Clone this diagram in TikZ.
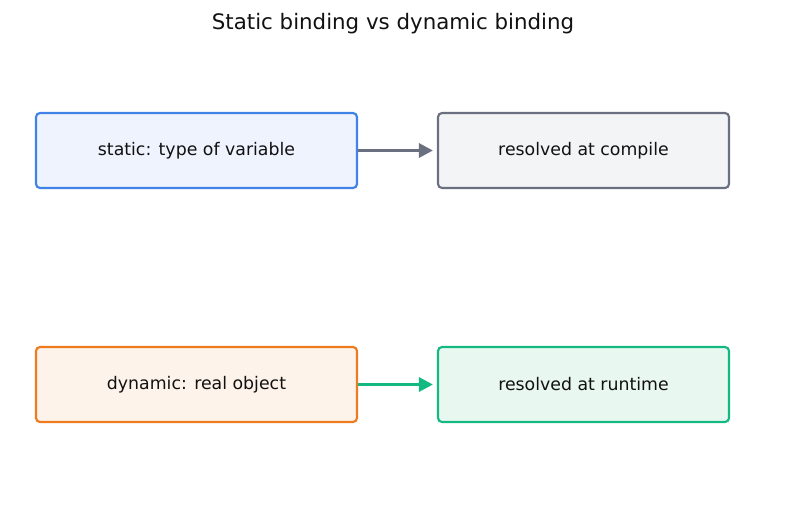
\documentclass[tikz,border=0pt]{standalone}
\usepackage{fontspec}
\setmainfont{DejaVu Sans}
\usetikzlibrary{arrows.meta}
\definecolor{bblue}{HTML}{3F83E6}
\definecolor{fblue}{HTML}{EEF3FE}
\definecolor{bgray}{HTML}{6B7080}
\definecolor{fgray}{HTML}{F3F4F6}
\definecolor{borange}{HTML}{EE7B1E}
\definecolor{forange}{HTML}{FEF3EA}
\definecolor{bgreen}{HTML}{14B981}
\definecolor{fgreen}{HTML}{E8F8F0}
\definecolor{txt}{HTML}{111111}
\begin{document}
\begin{tikzpicture}[x=0.75pt,y=-0.75pt,
  box/.style={draw, line width=1.6pt, rounded corners=3pt, minimum height=56.25pt, inner sep=0pt, font=\fontsize{13pt}{15pt}\selectfont, text=txt},
  conn/.style={line width=2.4pt, -{Triangle[length=10.5pt,width=10.5pt]}, shorten >=3pt}]
\useasboundingbox (0,0) rectangle (787,508);
\node[font=\fontsize{16pt}{19pt}\selectfont, text=txt] (title) at (393,24) {Static binding vs dynamic binding};
\node[box, draw=bblue, fill=fblue, minimum width=240.75pt] (s) at (196.5,150.5) {static: type of variable};
\node[box, draw=bgray, fill=fgray, minimum width=218.25pt] (sc) at (583.5,150.5) {resolved at compile};
\node[box, draw=borange, fill=forange, minimum width=240.75pt] (d) at (196.5,384.5) {dynamic: real object};
\node[box, draw=bgreen, fill=fgreen, minimum width=218.25pt] (dr) at (583.5,384.5) {resolved at runtime};
\draw[conn, bgray] (s) -- (sc);
\draw[conn, bgreen] (d) -- (dr);
\end{tikzpicture}
\end{document}
